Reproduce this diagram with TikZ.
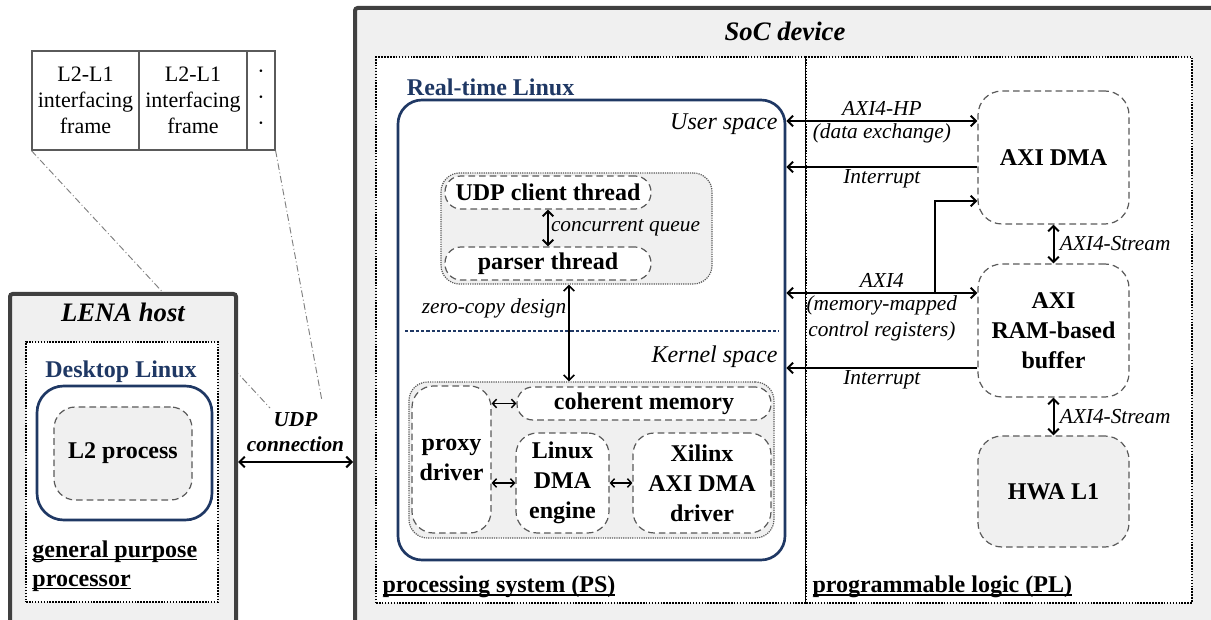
\documentclass[tikz,border=0pt]{standalone}
\usepackage{fontspec}
\setmainfont{Liberation Serif}
\usetikzlibrary{arrows.meta,fit}

\definecolor{navy}{RGB}{31,56,100}
\definecolor{boxgray}{RGB}{240,240,240}
\definecolor{edgegray}{RGB}{64,64,64}
\definecolor{dashgray}{RGB}{90,90,90}

\newsavebox\ulbox
\newcommand\uln[1]{\sbox\ulbox{#1}\rlap{\rule[-2.2pt]{\wd\ulbox}{1.1pt}}\usebox\ulbox}

\tikzset{every picture/.style={line width=0.75pt}}
\tikzset{
  hostbox/.style={draw=edgegray, line width=3pt, fill=boxgray, rounded corners=2pt, inner sep=0pt},
  dotbox/.style={draw=black, fill=white, line width=1.2pt, dash pattern=on 1.2pt off 1pt, inner sep=0pt},
  osbox/.style={draw=navy, line width=2pt, rounded corners=16pt, inner sep=0pt},
  grpbox/.style={draw=dashgray, fill=boxgray, line width=0.9pt, dash pattern=on 0.9pt off 0.8pt, rounded corners=14pt, inner sep=0pt},
  blk/.style={draw=dashgray, fill=white, line width=0.9pt, dash pattern=on 5pt off 3pt, rounded corners=16pt, inner sep=0pt},
  blktext/.style={align=center, inner sep=0pt, font=\bfseries\fontsize{18}{22.5}\selectfont},
  cellbox/.style={draw=dashgray, line width=0.9pt, inner sep=0pt},
  celltext/.style={align=center, inner sep=0pt, font=\fontsize{16.5}{19.5}\selectfont},
  zoomline/.style={draw=gray, line width=0.7pt, dash pattern=on 5pt off 2pt on 0.7pt off 2pt},
  lbl/.style={font=\itshape\fontsize{16}{19}\selectfont, inner sep=1.5pt, align=center},
  spacelbl/.style={font=\itshape\fontsize{18}{21}\selectfont, inner sep=0pt, anchor=east},
  ttl/.style={font=\bfseries\itshape\fontsize{20}{24}\selectfont},
  osname/.style={font=\bfseries\fontsize{18}{22}\selectfont, text=navy},
  area/.style={font=\bfseries\fontsize{18}{21.5}\selectfont, align=left, inner sep=0pt},
  link/.style={line width=1.5pt, {Straight Barb[length=4pt,width=8pt]}-{Straight Barb[length=4pt,width=8pt]}},
  onelink/.style={line width=1.5pt, -{Straight Barb[length=4pt,width=8pt]}},
  klink/.style={line width=1.1pt, {Straight Barb[length=3pt,width=6.5pt]}-{Straight Barb[length=3pt,width=6.5pt]}}
}

\begin{document}
\begin{tikzpicture}[x=0.75pt,y=0.75pt,yscale=-1,xscale=1]
\useasboundingbox (0,0) rectangle (1211,620);
\clip (0,0) rectangle (1211,620);
\fill [white] (0,0) rectangle (1211,620);

%Frame strip
\node [cellbox, fit={(32,51) (139,150)}] (cellA) {};
\node [cellbox, fit={(139,51) (247,150)}] (cellB) {};
\node [cellbox, fit={(247,51) (275,150)}] (cellC) {};
\node [celltext] at (cellA.center) {L2-L1\\interfacing\\frame};
\node [celltext] at (cellB.center) {L2-L1\\interfacing\\frame};
\node [celltext] at (cellC.center) {·\\·\\·};
\coordinate (zoomA) at (270,408);
\coordinate (zoomB) at (322,401);
\draw [zoomline] (cellA.south west) -- (zoomA);
\draw [zoomline] (cellC.south east) -- (zoomB);

%LENA host
\node [hostbox, fit={(10,294) (236,700)}] (lena) {};
% Text Node
\node [ttl] (lenat) at (123,312) {LENA host};
\node [dotbox, fit={(26,342) (218,602)}] (gpp) {};
% Text Node
\node [osname] (dlinuxt) at (121,372) {Desktop Linux};
\node [osbox, rounded corners=20pt, fit={(37,386) (212,520)}] (dlinux) {};
\node [blk, fill=boxgray, fit={(54,407) (192,500)}] (l2proc) {};
\node [blktext] at (l2proc.center) {L2 process};
% Text Node
\node [area, anchor=west] (gppt) at (32,566) {\uln{general purpose}\\\uln{processor}};

%SoC device
\node [hostbox, fit={(355,8) (1240,700)}] (soc) {};
% Text Node
\node [ttl] (soct) at (785,31) {SoC device};
\node [dotbox, fit={(376,57) (806,603)}] (ps) {};
\node [dotbox, fit={(806,57) (1192,603)}] (pl) {};
% Text Node
\node [area, anchor=west] (pst) at (382,587) {\uln{processing system (PS)}};
% Text Node
\node [area, anchor=west] (plt) at (812,587) {\uln{programmable logic (PL)}};

%UDP link
\draw [link] (lena.east |- 0,462) -- node [above=7pt, align=center, inner sep=0pt, font=\bfseries\itshape\fontsize{16}{19}\selectfont] {UDP\\connection} (soc.west |- 0,462);

%Real-time Linux
\node [osname, anchor=west] (rtlt) at (402,87) {Real-time Linux};
\node [osbox, rounded corners=18pt, fit={(398,100) (785,560)}] (rtl) {};
\node [spacelbl] (usert) at (778,124) {User space};
\draw [navy, line width=1.2pt, dash pattern=on 2.5pt off 1.5pt] (405,331) -- (779,331);
\node [spacelbl] (kernt) at (778,357) {Kernel space};

%User space threads
\node [grpbox, fit={(441,173) (712,284)}] (thrgrp) {};
\node [blk, rounded corners=12pt, fit={(445,176) (651,209)}] (udpthr) {};
\node [blk, rounded corners=12pt, fit={(445,247) (651,280)}] (parthr) {};
\node [blktext] at (udpthr.center) {UDP client thread};
\node [blktext] at (parthr.center) {parser thread};
\draw [link] (udpthr.south) -- node [lbl, right] {concurrent queue} (parthr.north);

%Kernel space drivers
\node [grpbox, fit={(409,382) (774,538)}] (krngrp) {};
\node [blk, fit={(412,386) (491,533)}] (proxy) {};
\node [blk, rounded corners=12pt, fit={(517,387) (771,420)}] (cohmem) {};
\node [blk, fit={(516,433) (609,533)}] (lindma) {};
\node [blk, fit={(633,433) (771,533)}] (xildma) {};
\node [blktext] at (proxy.center) {proxy\\driver};
\node [blktext] at (cohmem.center) {coherent memory};
\node [blktext] at (lindma.center) {Linux\\DMA\\engine};
\node [blktext] at (xildma.center) {Xilinx\\AXI DMA\\driver};
\draw [klink] (proxy.east |- cohmem.west) -- (cohmem.west);
\draw [klink] (proxy.east |- lindma.west) -- (lindma.west);
\draw [klink] (lindma.east) -- (xildma.west);

%Zero-copy path
\draw [link, line width=1.2pt] (thrgrp.south -| 569,0) -- node [lbl, left, pos=0.25] {zero-copy design} (krngrp.north -| 569,0);

%Programmable logic
\node [blk, rounded corners=18pt, fit={(978,91) (1129,224)}] (axidma) {};
\node [blk, rounded corners=18pt, fit={(978,264) (1129,397)}] (rambuf) {};
\node [blk, rounded corners=18pt, fill=boxgray, fit={(978,436) (1129,547)}] (hwal1) {};
\node [blktext] at (axidma.center) {AXI DMA};
\node [blktext] at (rambuf.center) {AXI\\RAM-based\\buffer};
\node [blktext] at (hwal1.center) {HWA L1};
\draw [link] (axidma.south) -- node [lbl, right, inner sep=4pt] {AXI4-Stream} (rambuf.north);
\draw [link] (rambuf.south) -- node [lbl, right, inner sep=4pt] {AXI4-Stream} (hwal1.north);

%PS-PL links
\draw [link] (rtl.east |- 0,121) -- node [lbl, above, yshift=2pt] {AXI4-HP} node [lbl, below] {(data exchange)} (axidma.west |- 0,121);
\draw [onelink] (axidma.west |- 0,167) -- node [lbl, below] {Interrupt} (rtl.east |- 0,167);
\draw [link] (rtl.east |- 0,293) -- node [lbl, above, yshift=2pt] {AXI4} node [lbl, below] {(memory-mapped\\control registers)} (rambuf.west |- 0,293);
\coordinate (tap) at (935,293);
\draw [onelink] (tap) |- (axidma.west |- 0,201);
\draw [onelink] (rambuf.west |- 0,368) -- node [lbl, below] {Interrupt} (rtl.east |- 0,368);

\end{tikzpicture}
\end{document}
